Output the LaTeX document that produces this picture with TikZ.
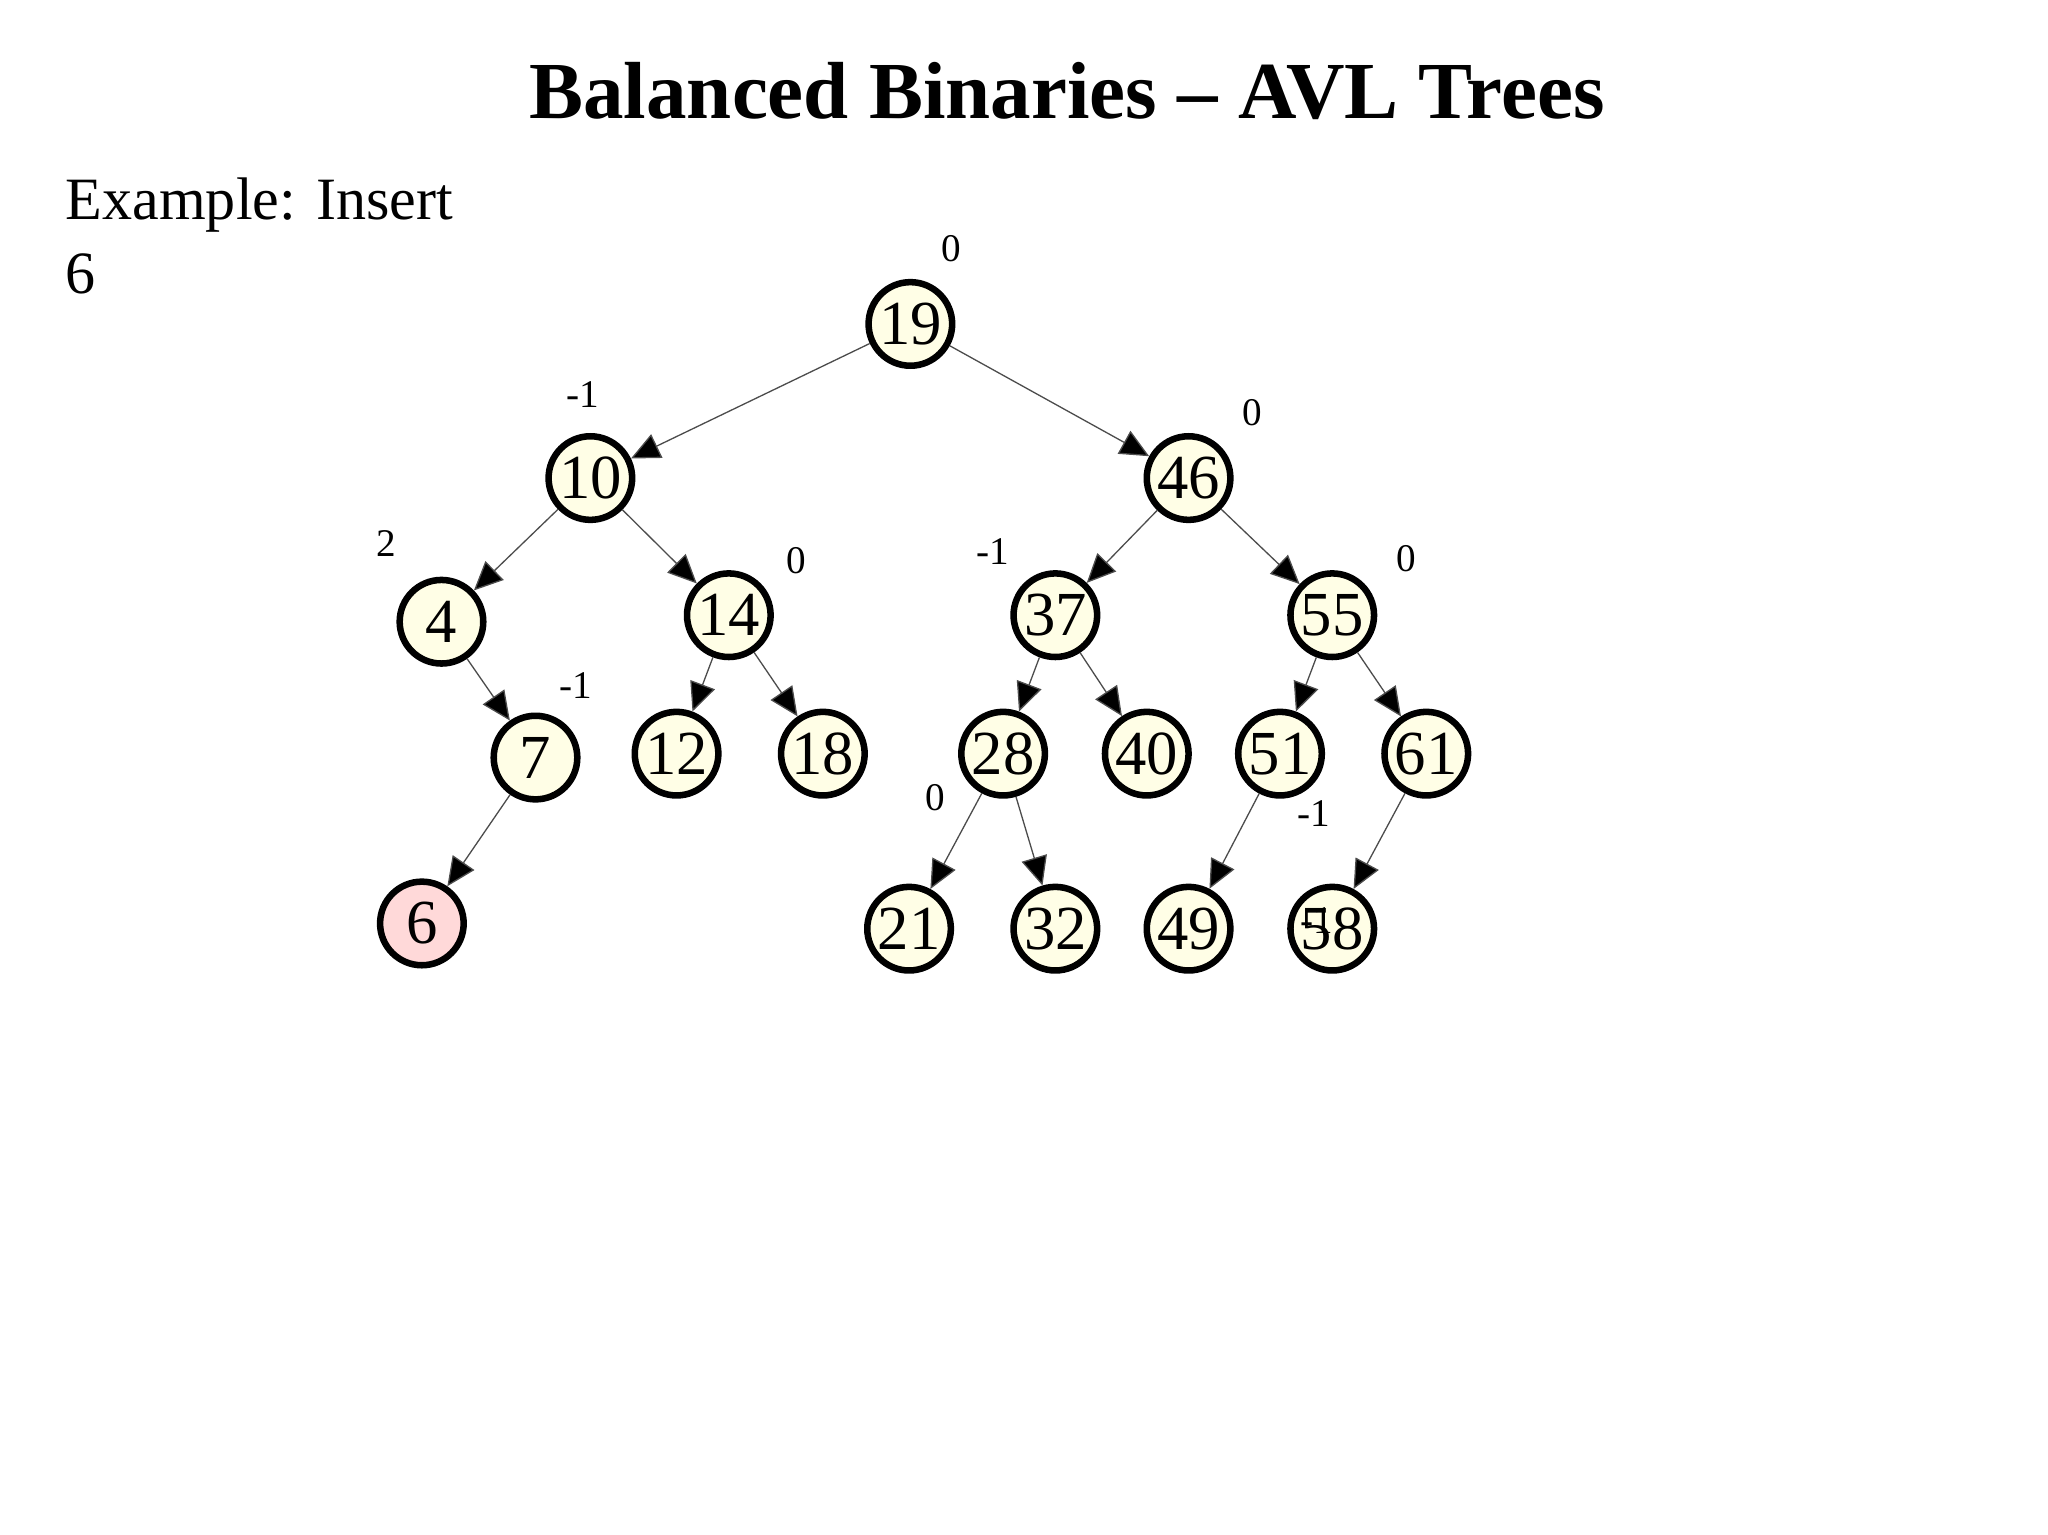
\documentclass[tikz,border=0pt]{standalone}
\usepackage{fontspec}
\setmainfont{Liberation Serif}
\usetikzlibrary{arrows.meta}
\begin{document}
\begin{tikzpicture}[x=0.5pt,y=-0.5pt,
  nd/.style={circle,draw=black,line width=2.5pt,fill=yellow!10!white,minimum size=32pt,inner sep=0pt,font=\fontsize{24}{24}\selectfont},
  red/.style={fill=red!15!white},
  ed/.style={draw=black!70,line width=0.5pt,-{Triangle[length=11pt,width=10pt,fill=black]}},
  bal/.style={font=\fontsize{15}{15}\selectfont}]
\useasboundingbox (0,0) rectangle (1568,1175);
\node[font=\bfseries\fontsize{31}{31}\selectfont] (title) at (817,70) {Balanced Binaries – AVL Trees};
\node[anchor=north west,align=left,font=\fontsize{23}{28}\selectfont,inner sep=0pt] (ex) at (50,136) {Example: Insert\\6};
\foreach \n/\x/\y in {19/697/248,10/452/366,46/910/366,4/338/476,14/558/471,37/808/471,55/1020/471,7/410/580,12/518/577,18/630/577,28/768/577,40/878/577,51/980/577,61/1092/577,21/696/711,32/808/711,49/910/711,58/1020/711}
  \node[nd] (n\n) at (\x,\y) {\n};
\node[nd,red] (n6) at (323,707) {6};
\foreach \a/\b in {19/10,19/46,10/4,10/14,46/37,46/55,4/7,7/6,14/12,14/18,37/28,37/40,55/51,55/61,28/21,28/32,51/49,61/58}
  \draw[ed] (n\a) -- (n\b);
\node[bal] (b19) at (728,190) {0};
\node[bal] (b10) at (446,302) {-1};
\node[bal] (b46) at (959,316) {0};
\node[bal] (b4) at (296,416) {2};
\node[bal] (b14) at (610,429) {0};
\node[bal] (b37) at (760,422) {-1};
\node[bal] (b55) at (1077,428) {0};
\node[bal] (b7) at (441,525) {-1};
\node[bal] (b28) at (716,611) {0};
\node[bal] (b51) at (1006,623) {-1};
\node[bal] (b61) at (1008,705) {-1};
\end{tikzpicture}
\end{document}
